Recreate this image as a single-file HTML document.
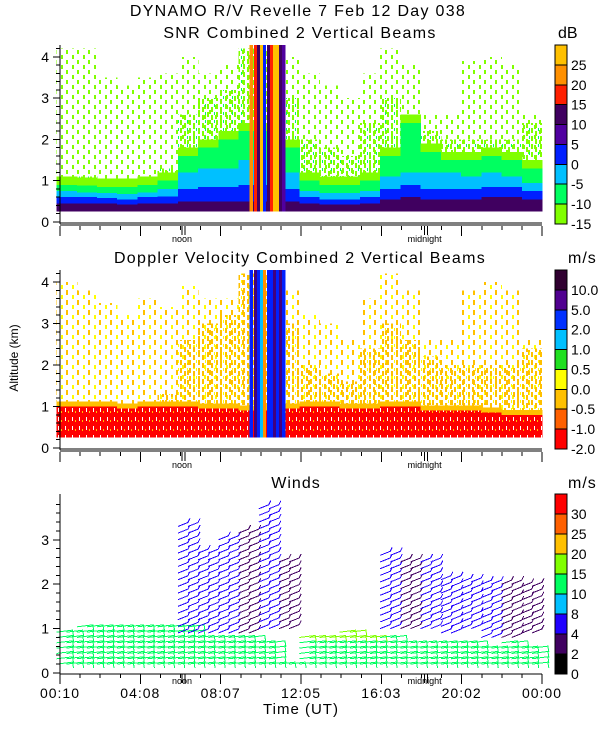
<!DOCTYPE html>
<html><head><meta charset="utf-8"><style>
body{margin:0;background:#fff}
svg text{font-family:"Liberation Sans",sans-serif;fill:#000}
</style></head><body>
<svg id="c" width="600" height="750" xmlns="http://www.w3.org/2000/svg" shape-rendering="crispEdges">
<defs>
<pattern id="pg" width="11" height="10" patternUnits="userSpaceOnUse"><rect x="0" y="0" width="2" height="4" fill="#80ff00"/><rect x="6" y="5" width="2" height="4" fill="#80ff00"/></pattern>
<pattern id="pg2" width="9" height="8" patternUnits="userSpaceOnUse"><rect x="0" y="0" width="2" height="5" fill="#80ff00"/><rect x="4" y="3" width="2" height="5" fill="#80ff00"/><rect x="7" y="0" width="1" height="3" fill="#00ff60"/></pattern>
<pattern id="py" width="11" height="10" patternUnits="userSpaceOnUse"><rect x="0" y="0" width="2" height="5" fill="#ffc000"/><rect x="6" y="5" width="2" height="4" fill="#ffff00"/></pattern>
<pattern id="py2" width="9" height="8" patternUnits="userSpaceOnUse"><rect x="0" y="0" width="2" height="5" fill="#ffc000"/><rect x="4" y="3" width="2" height="5" fill="#ffc000"/><rect x="7" y="0" width="1" height="3" fill="#ffff00"/></pattern>
<pattern id="pr" width="7" height="9" patternUnits="userSpaceOnUse"><rect width="7" height="9" fill="#ff0000"/><rect x="2" y="3" width="1" height="4" fill="#fff"/><rect x="5" y="6" width="1" height="2" fill="#ffc000"/></pattern>
</defs>
<text x="298" y="16" font-size="16" letter-spacing="1.3" text-anchor="middle">DYNAMO R/V Revelle    7 Feb 12 Day 038</text>
<text x="300" y="38" font-size="16" letter-spacing="1.3" text-anchor="middle">SNR Combined 2 Vertical Beams</text>
<text x="558" y="38" font-size="16">dB</text>
<text x="300" y="263" font-size="16" letter-spacing="1.3" text-anchor="middle">Doppler Velocity Combined 2 Vertical Beams</text>
<text x="568" y="263" font-size="16" letter-spacing="1">m/s</text>
<text x="296" y="488" font-size="16" letter-spacing="1" text-anchor="middle">Winds</text>
<text x="568" y="488" font-size="16" letter-spacing="1">m/s</text>
<text transform="translate(18,358) rotate(-90)" font-size="12" text-anchor="middle">Altitude (km)</text>
<text x="301" y="714" font-size="15" letter-spacing="1" text-anchor="middle">Time (UT)</text>
<g id="g"></g>
</svg>
<script>
// ---- data (per hour, 0..23) ----
const hours=[0,1,2,3,4,5,6,7,8,9,10,11,12,13,14,15,16,17,18,19,20,21,22,23];
const snrPurpleTop=[0.45,0.45,0.45,0.42,0.45,0.45,0.5,0.5,0.5,0.5,0.5,0.5,0.45,0.42,0.42,0.45,0.55,0.6,0.55,0.55,0.55,0.6,0.6,0.55];
const snrBlueTop=[0.6,0.6,0.58,0.55,0.6,0.62,0.8,0.85,0.85,0.9,0.9,0.8,0.6,0.55,0.55,0.6,0.8,0.9,0.8,0.8,0.8,0.85,0.85,0.75];
const snrCyanTop=[0.75,0.72,0.7,0.68,0.72,0.8,1.2,1.3,1.3,1.5,1.5,1.2,0.75,0.7,0.7,0.75,1.1,1.2,1.2,1.2,1.1,1.2,1.1,0.95];
const snrGreenTop=[0.9,0.88,0.85,0.85,0.9,1.0,1.6,1.8,2.0,2.2,2.2,1.8,1.0,0.9,0.9,1.0,1.6,2.4,1.7,1.5,1.5,1.6,1.5,1.3];
const snrDenseTop=[1.1,1.1,1.05,1.0,1.1,1.3,2.6,3.0,3.2,4.2,4.2,3.0,2.0,1.8,1.6,2.4,3.0,2.6,2.2,2.0,2.0,2.0,2.0,2.4];
const snrLightTop=[4.2,4.2,3.5,3.3,3.5,3.6,4.0,3.6,3.8,4.2,4.2,4.0,3.6,3.3,3.0,3.6,4.2,3.8,2.6,2.6,3.9,4.0,3.8,2.6];
const convHours=[9.55,9.75,9.9,10.05,10.2,10.4,10.55,10.7,10.85,11.0,11.15];
const convSnr=["#ff9000","#ff2000","#400060","#ffc000","#0020ff","#400060","#ff2000","#ffc000","#ffc000","#400060","#5000a0"];
const convVel=["#0020ff","#400080","#0020ff","#00c0ff","#ff9000","#0020ff","#0020ff","#400080","#0020ff","#400080","#0020ff"];
const dopRedTop=[1.0,1.0,1.0,0.95,1.0,1.0,1.0,0.95,0.95,0.9,0.9,0.95,1.0,1.0,0.95,0.95,1.0,1.0,0.9,0.9,0.9,0.85,0.8,0.8];
const dopDenseTop=[1.1,1.1,1.05,1.0,1.1,1.3,2.6,3.0,3.2,4.2,4.2,3.0,2.0,1.8,1.6,2.4,3.0,2.6,2.2,2.0,2.0,2.0,2.0,2.4];
const dopYellowTop=[4.0,3.8,3.5,3.2,3.6,3.4,3.9,3.6,3.6,4.2,4.2,3.8,3.2,3.0,2.6,3.6,4.2,3.8,2.6,2.6,3.8,4.0,3.8,2.6];
const windLowTop=[1.0,1.05,1.05,1.05,1.05,1.1,1.05,0.9,0.9,0.85,0.75,0.3,0.8,0.9,0.95,0.9,0.8,0.75,0.75,0.7,0.7,0.65,0.7,0.65];
const windUpBot=[0,0,0,0,0,0,0.9,0.9,0.9,0.9,1.0,1.0,0,0,0,0,1.0,1.0,1.0,0.9,1.0,0.8,0.8,0.9];
const windUpTop=[0,0,0,0,0,0,3.3,2.7,3.0,3.2,3.8,2.5,0,0,0,0,2.7,2.6,2.5,2.1,2.1,2.1,2.1,2.0];
const windUpColor=["#2000ff","#2000ff","#2000ff","#2000ff","#2000ff","#2000ff","#2000ff","#2000ff","#2000ff","#400060","#2000ff","#400060","#000","#000","#000","#000","#2000ff","#400060","#2000ff","#2000ff","#2000ff","#2000ff","#400060","#400060"];
const snrTicks=["25","20","15","10","5","0","-5","-10","-15"];
const snrColors=["#80ff00","#00ff60","#00c0ff","#0020ff","#5000a0","#400060","#ff2000","#ff9000","#ffc000"];
const velTicks=["10.0","5.0","2.0","1.0","0.5","0.0","-0.5","-1.0","-2.0"];
const velColors=["#ff0000","#ff6000","#ffc000","#ffff00","#20e020","#00c0ff","#0030ff","#500090","#300030"];
const windTicks=["30","25","20","15","10","8","4","2","0"];
const windColors=["#000000","#400060","#2000ff","#00c0ff","#00ff60","#80ff00","#ffc000","#ff6000","#ff0000"];
const timeLabels=["00:10","04:08","08:07","12:05","16:03","20:02","00:00"];

const NS="http://www.w3.org/2000/svg",G=document.getElementById('g');
function el(t,a,p){const e=document.createElementNS(NS,t);for(const k in a)e.setAttribute(k,a[k]);(p||G).appendChild(e);return e;}
const X0=60,X1=542;
const xs=h=>X0+(h-0.17)/23.83*(X1-X0);
const panels=[{y0:222,k:41.3,top:45},{y0:448,k:41.5,top:270},{y0:673,k:44.4,top:494}];
const ys=(p,v)=>p.y0-v*p.k;
function cell(p,h,bot,top,fill,name){
  top=Math.min(top,4.3);if(top<=bot)return;
  const r=el('rect',{x:xs(h),y:ys(p,top),width:xs(h+1)-xs(h)+0.5,height:ys(p,bot)-ys(p,top),fill:fill});
  
  
}
const P1=panels[0],P2=panels[1],P3=panels[2];
hours.forEach((h,i)=>{
  cell(P1,h,0.25,snrLightTop[i],'url(#pg)','snr-sparse-cell');
  cell(P1,h,0.25,snrDenseTop[i],'url(#pg2)','snr-medium-cell');
  cell(P1,h,0.25,snrGreenTop[i]+0.2,'#80ff00','snr-cell');
  cell(P1,h,0.25,snrGreenTop[i],'#00ff60','snr-cell');
  cell(P1,h,0.25,snrCyanTop[i],'#00c0ff','snr-cell');
  cell(P1,h,0.25,snrBlueTop[i],'#0020ff','snr-cell');
  cell(P1,h,0.25,snrPurpleTop[i],'#400060','snr-cell');
  cell(P2,h,0.25,dopYellowTop[i],'url(#py)','doppler-sparse-cell');
  cell(P2,h,0.25,dopDenseTop[i],'url(#py2)','doppler-medium-cell');
  cell(P2,h,0.25,dopRedTop[i]+0.12,'#ffc000','doppler-cell');
  cell(P2,h,0.25,dopRedTop[i],'url(#pr)','doppler-cell');
});
convHours.forEach((h,i)=>{
  const r=el('rect',{x:xs(h),y:P1.top,width:xs(h+0.16)-xs(h),height:ys(P1,0.25)-P1.top,fill:convSnr[i]});
  
  const q=el('rect',{x:xs(h),y:P2.top,width:xs(h+0.16)-xs(h),height:ys(P2,0.25)-P2.top,fill:convVel[i]});
  
});
// winds barbs
hours.forEach((h,i)=>{
  for(let s=0;s<2;s++){const hh=h+s*0.5;
    for(let z=0.2;z<=windLowTop[i];z+=0.12){
      const x=xs(hh),y=ys(P3,z),c=(z>0.7&&i>=12&&i<=15)?"#80ff00":"#00ff60";
      const l=el('polyline',{points:`${x},${y} ${x+16},${y-2} ${x+17},${y+4}`,fill:'none',stroke:c,'stroke-width':1});
      
    }
    if(windUpTop[i]>0){
      for(let z=windUpBot[i];z<=windUpTop[i];z+=0.15){
        const x=xs(hh),y=ys(P3,z);
        const l=el('polyline',{points:`${x},${y} ${x+10},${y-4} ${x+12},${y-8}`,fill:'none',stroke:windUpColor[i],'stroke-width':1});
        
      }
    }
  }
});
// axes
panels.forEach((p,pi)=>{
  const maxKm=pi==2?3.9:4.2;
  el('line',{x1:X0,y1:p.top,x2:X0,y2:p.y0+2,stroke:'#000'});
  el('line',{x1:X0,y1:p.y0+1,x2:X1,y2:p.y0+1,stroke:'#000'});
  if(pi<2)el('line',{x1:X0,y1:p.y0+3,x2:X1,y2:p.y0+3,stroke:'#000'});
  for(let v=0;v<=maxKm+0.001;v+=0.2){const y=ys(p,v),maj=Math.abs(v-Math.round(v))<0.01;el('line',{x1:X0-(maj?7:4),y1:y,x2:X0,y2:y,stroke:'#000'});}
  for(let v=0;v<=(pi==2?3:4);v++){const t=el('text',{x:X0-11,y:ys(p,v)+5,'font-size':14,'text-anchor':'end'});t.textContent=v;}
  const by=p.y0+(pi<2?4:1);
  for(let j=0;j<=24;j++){const x=xs(0.17+j*23.83/24);el('line',{x1:x,y1:by,x2:x,y2:by+(j%4==0?10:4),stroke:'#000'});}
  [[6.2,'noon'],[18.2,'midnight']].forEach(([h,s])=>{const x=xs(h);el('line',{x1:x,y1:by,x2:x,y2:by+9,stroke:'#000'});el('line',{x1:x+3,y1:by,x2:x+3,y2:by+9,stroke:'#000'});
    const t=el('text',{x:x,y:by+(pi<2?16:10),'font-size':9,'text-anchor':'middle'});t.textContent=s;});
});
timeLabels.forEach((s,j)=>{const t=el('text',{x:X0+j*(X1-X0)/6,y:698,'font-size':14,'letter-spacing':1,'text-anchor':'middle'});t.textContent=s;
  });
// colorbars
function cbar(top,bot,cols,ticks,name){
  const n=cols.length,hgt=(bot-top)/n;
  cols.forEach((c,i)=>{const r=el('rect',{x:555,y:bot-(i+1)*hgt,width:12,height:hgt,fill:c,stroke:'#000','stroke-width':1});
    });
  ticks.forEach((s,i)=>{const t=el('text',{x:571,y:top+i*hgt+hgt+5,'font-size':14});t.textContent=s;
    });
}
cbar(45,224,snrColors,snrTicks,'snr-colorbar');
cbar(270,449,velColors,velTicks,'doppler-colorbar');
cbar(494,674,windColors,windTicks,'wind-colorbar');
</script>
</body></html>
